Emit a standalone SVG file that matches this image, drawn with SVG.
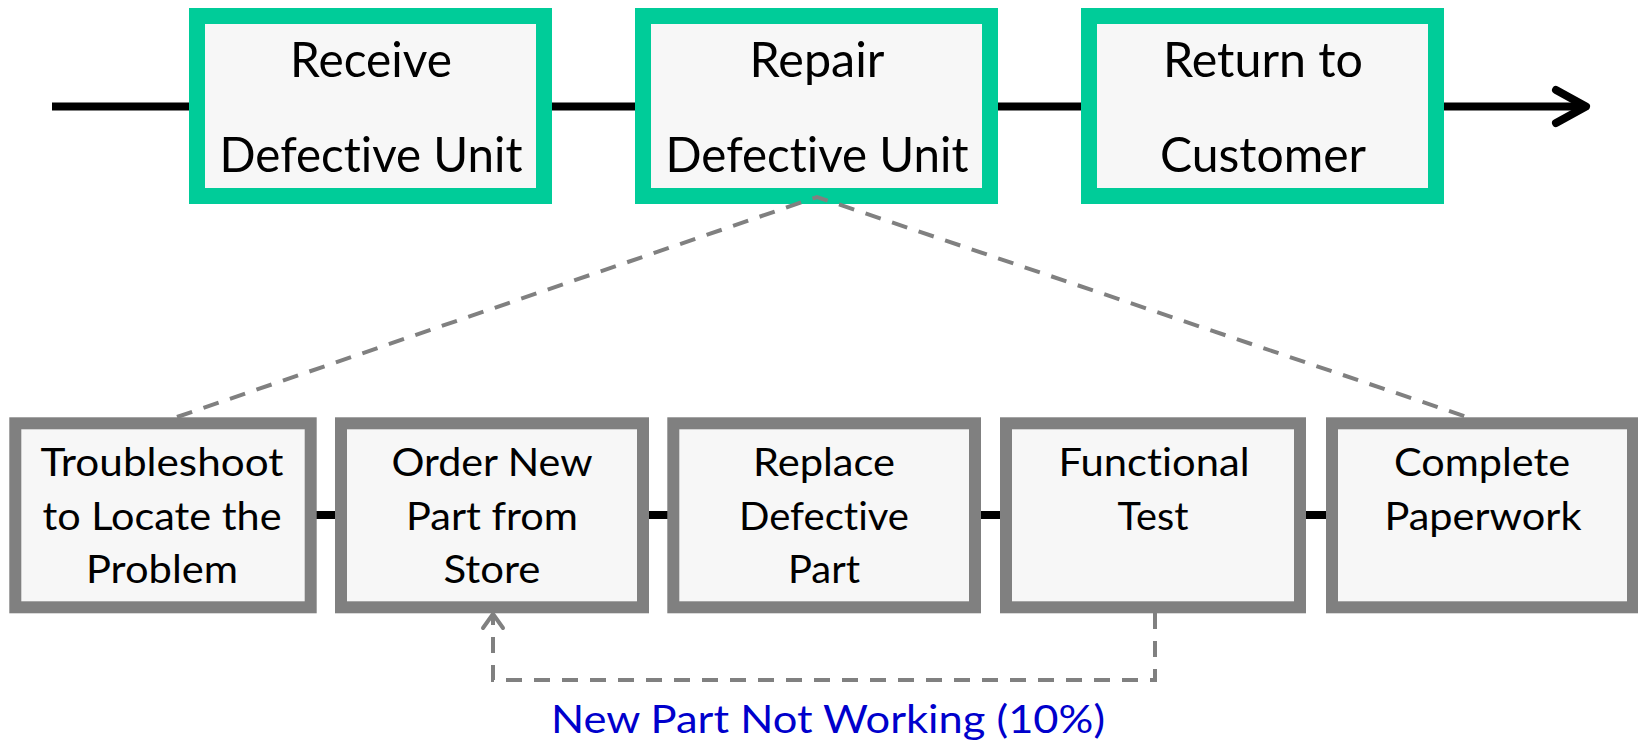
<svg xmlns="http://www.w3.org/2000/svg" width="1638" height="743" viewBox="0 0 1638 743">
  <style>
    .stage rect { fill: #F7F7F7; stroke: #00CC99; stroke-width: 16; }
    .step rect { fill: #F7F7F7; stroke: #808080; stroke-width: 12; }
    text { font-family: Lato, "Open Sans", "Liberation Sans", sans-serif; fill: #000; text-anchor: middle; font-variant-ligatures: none; }
    .stage text { font-size: 49px; }
    .step text { font-size: 39px; }
    .flow { stroke: #000; stroke-width: 8; fill: none; }
    .dash { stroke: #808080; stroke-width: 4; fill: none; stroke-dasharray: 16 12; }
    .head { stroke: #808080; stroke-width: 4; fill: none; stroke-linecap: round; stroke-linejoin: round; }
    .note { font-size: 39px; fill: #0000CC; }
  </style>
  <rect width="1638" height="743" fill="#FFFFFF"/>

  <!-- main flow line -->
  <g id="main-flow">
    <path class="flow" d="M52,106.5 H189 M552,106.5 H635 M998,106.5 H1081 M1444,106.5 H1583"/>
    <path class="flow" d="M1556,90 L1586,106.5 L1556,123" stroke-linecap="round" stroke-linejoin="round"/>
  </g>

  <!-- top-level stages -->
  <g id="receive" class="stage">
    <rect x="197" y="16" width="347" height="180"/>
    <text x="371" y="77" textLength="162" lengthAdjust="spacingAndGlyphs">Receive</text>
    <text x="371" y="172" textLength="303" lengthAdjust="spacingAndGlyphs">Defective Unit</text>
  </g>
  <g id="repair" class="stage">
    <rect x="643" y="16" width="347" height="180"/>
    <text x="817" y="77" textLength="135" lengthAdjust="spacingAndGlyphs">Repair</text>
    <text x="817" y="172" textLength="303" lengthAdjust="spacingAndGlyphs">Defective Unit</text>
  </g>
  <g id="return" class="stage">
    <rect x="1089" y="16" width="347" height="180"/>
    <text x="1263" y="77" textLength="200" lengthAdjust="spacingAndGlyphs">Return to</text>
    <text x="1263" y="172" textLength="206" lengthAdjust="spacingAndGlyphs">Customer</text>
  </g>

  <!-- connectors: expansion lines, step links, rework loop -->
  <g id="connectors">
    <path class="dash" d="M177,417 L817,197 L1467,417"/>
    <path class="flow" d="M316,515 H336 M648,515 H668 M980,515 H1001 M1305,515 H1327"/>
    <path class="dash" d="M1155,613 V680 H493 V617"/>
    <path class="head" d="M483,628 L493,614 L503,628"/>
  </g>

  <!-- repair sub-steps -->
  <g id="troubleshoot" class="step">
    <rect x="15.3" y="423.3" width="295.4" height="184"/>
    <text x="162" y="476" textLength="243" lengthAdjust="spacingAndGlyphs">Troubleshoot</text>
    <text x="162" y="530" textLength="239" lengthAdjust="spacingAndGlyphs">to Locate the</text>
    <text x="162" y="583" textLength="152" lengthAdjust="spacingAndGlyphs">Problem</text>
  </g>
  <g id="order-part" class="step">
    <rect x="341" y="423.3" width="302" height="184"/>
    <text x="492" y="476" textLength="201" lengthAdjust="spacingAndGlyphs">Order New</text>
    <text x="492" y="530" textLength="172" lengthAdjust="spacingAndGlyphs">Part from</text>
    <text x="492" y="583" textLength="97" lengthAdjust="spacingAndGlyphs">Store</text>
  </g>
  <g id="replace-part" class="step">
    <rect x="673.3" y="423.3" width="301.7" height="184"/>
    <text x="824" y="476" textLength="142" lengthAdjust="spacingAndGlyphs">Replace</text>
    <text x="824" y="530" textLength="170" lengthAdjust="spacingAndGlyphs">Defective</text>
    <text x="824" y="583" textLength="72" lengthAdjust="spacingAndGlyphs">Part</text>
  </g>
  <g id="functional-test" class="step">
    <rect x="1006" y="423.3" width="294" height="184"/>
    <text x="1154" y="476" textLength="191" lengthAdjust="spacingAndGlyphs">Functional</text>
    <text x="1153" y="530" textLength="71" lengthAdjust="spacingAndGlyphs">Test</text>
  </g>
  <g id="paperwork" class="step">
    <rect x="1332" y="423.3" width="301" height="184"/>
    <text x="1482" y="476" textLength="176" lengthAdjust="spacingAndGlyphs">Complete</text>
    <text x="1483" y="530" textLength="197" lengthAdjust="spacingAndGlyphs">Paperwork</text>
  </g>

  <text class="note" x="828" y="733" textLength="554" lengthAdjust="spacingAndGlyphs">New Part Not Working (10%)</text>
</svg>
